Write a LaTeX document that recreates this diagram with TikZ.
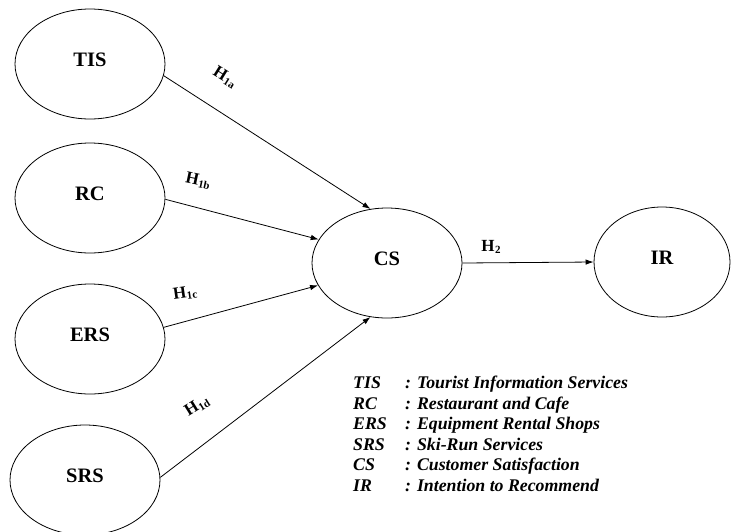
\documentclass[tikz,border=0pt]{standalone}
\usepackage{fontspec}
\setmainfont{Liberation Serif}
\usetikzlibrary{shapes.geometric,arrows.meta}
\tikzset{
  var/.style={ellipse,draw,line width=0.8pt,inner sep=0pt,minimum width=150pt,minimum height=110pt,text height=14pt,text depth=10pt,font=\fontsize{20.5}{24}\selectfont\bfseries},
  path/.style={line width=0.8pt,-{Latex[length=8pt,width=5.5pt]}},
  hyp/.style={font=\fontsize{17}{20}\selectfont\bfseries,inner sep=0pt}
}
\newcommand{\hsub}[1]{H\kern0.3pt{\fontsize{11}{11}\selectfont\raisebox{-2pt}{#1}}}
\begin{document}
\begin{tikzpicture}[x=1pt,y=-1pt]
\useasboundingbox (0,0) rectangle (733,531);
\node[var] (tis) at (90,64) {TIS};
\node[var] (rc) at (90,198) {RC};
\node[var] (ers) at (90,339) {ERS};
\node[var] (srs) at (85,480) {SRS};
\node[var] (cs) at (387,263) {CS};
\node[var,minimum width=136pt] (ir) at (662,262) {IR};
\draw[path] (tis.-9) -- (cs.107);
\draw[path] (rc.-1) -- (cs.161.6);
\draw[path] (ers.9) -- (cs.198.4);
\draw[path] (srs.2) -- (cs.253);
\draw[path] (cs.east) -- (ir.west);
\node[hyp,rotate=-32] (h1a) at (225,77) {\hsub{1a}};
\node[hyp,rotate=-12] (h1b) at (198,181) {\hsub{1b}};
\node[hyp,rotate=8] (h1c) at (185,293) {\hsub{1c}};
\node[hyp,rotate=32] (h1d) at (197,406) {\hsub{1d}};
\node[hyp] (h2) at (491,247) {\hsub{2}};
\node[anchor=north west,inner sep=0pt,font=\fontsize{17.8}{20.5}\selectfont\bfseries\itshape] (legend) at (353,374) {%
\begin{tabular}{@{}p{52pt}@{}l@{}}
TIS & : Tourist Information Services\\
RC & : Restaurant and Cafe\\
ERS & : Equipment Rental Shops\\
SRS & : Ski-Run Services\\
CS & : Customer Satisfaction\\
IR & : Intention to Recommend
\end{tabular}};
\end{tikzpicture}
\end{document}
